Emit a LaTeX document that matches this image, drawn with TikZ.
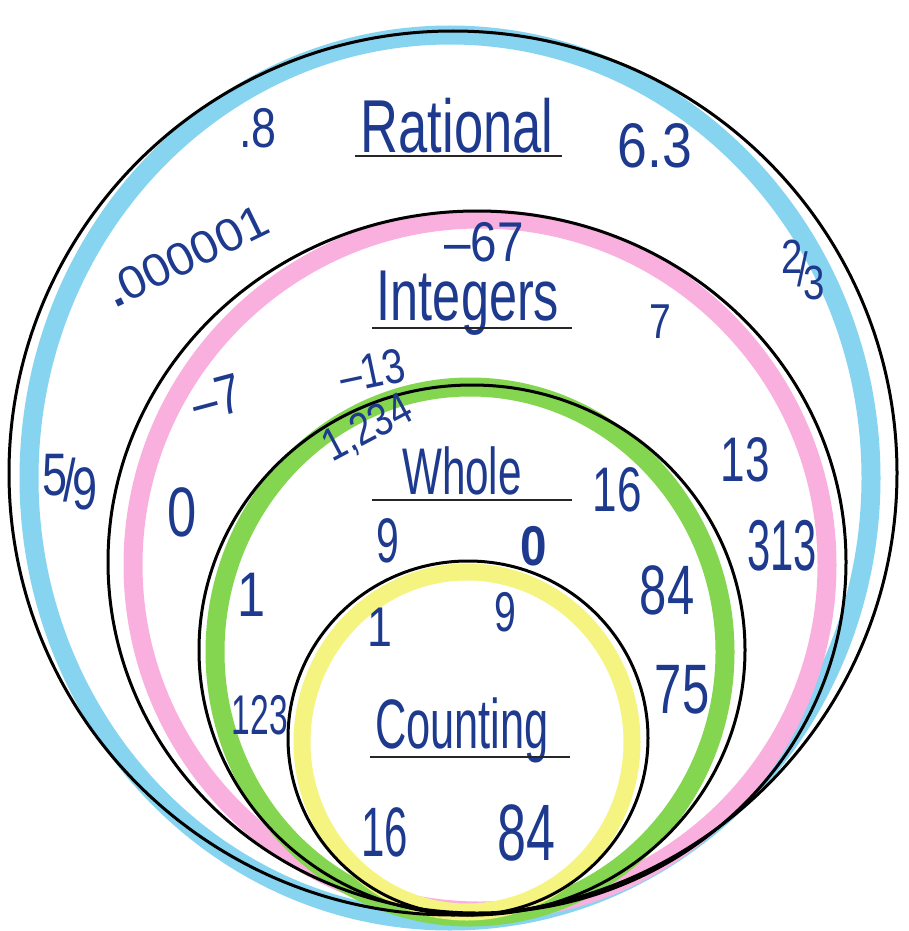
\documentclass[tikz,border=0pt]{standalone}
\usepackage{fontspec}
\setmainfont{Liberation Sans}
\definecolor{ink}{RGB}{30,58,142}
\definecolor{ratblue}{RGB}{134,212,240}
\definecolor{intpink}{RGB}{250,176,222}
\definecolor{wholegreen}{RGB}{132,214,80}
\definecolor{countyellow}{RGB}{246,244,128}
\newcommand\hw[3]{{\fontsize{#1}{#1}\selectfont\scalebox{#2}[1]{#3}}}
\begin{document}
\begin{tikzpicture}[x=1pt,y=-1pt,
  hand/.style={text=ink, inner sep=0pt},
  band/.style={line width=#1},
  setline/.style={draw=black, line width=3pt},
  uline/.style={draw=black!85, line width=2.4pt}]
\useasboundingbox (0,0) rectangle (908,931);
\fill[white] (0,0) rectangle (908,931);
% highlighter bands
\draw[band=19pt, ratblue] (450,478) ellipse [x radius=421, y radius=443];
\draw[band=19pt, intpink] (480,565) ellipse [x radius=347, y radius=346];
\draw[band=19pt, wholegreen] (470,652) ellipse [x radius=255, y radius=265];
\draw[band=17pt, countyellow] (467,742) ellipse [x radius=165, y radius=170];
% black set outlines
\draw[setline] (453,473) ellipse [x radius=444, y radius=442];
\draw[setline] (477,562) ellipse [x radius=369, y radius=351];
\draw[setline] (472,650) ellipse [x radius=273, y radius=265];
\draw[setline] (468,738) ellipse [x radius=180, y radius=177];
% titles
\node[hand, anchor=base] (rat) at (457,152) {\hw{75}{0.7}{Rational}};
\draw[uline] (355,156) -- (562,156);
\node[hand, anchor=base] (int) at (468,320) {\hw{72}{0.7}{Integers}};
\draw[uline] (372,328) -- (572,328);
\node[hand, anchor=base] (who) at (462,494) {\hw{66}{0.64}{Whole}};
\draw[uline] (372,500) -- (572,500);
\node[hand, anchor=base] (cnt) at (462,748) {\hw{70}{0.62}{Counting}};
\draw[uline] (370,757) -- (570,757);
% rational numbers
\node[hand] (p8) at (258,128) {\hw{56}{0.8}{.8}};
\node[hand] (s63) at (655,146) {\hw{63}{0.85}{6.3}};
\node[hand, rotate=26] (small) at (187,256) {\hw{46}{1.05}{\textbf{.}000001}};
\node[hand] (twothirds) at (803,270) {\hw{48}{0.8}{\raisebox{13pt}{2}\kern-6pt/\kern-6pt\raisebox{-13pt}{3}}};
\node[hand] (fivenin) at (70,482) {\hw{60}{0.75}{\raisebox{6pt}{5}\kern-5pt/\kern-5pt\raisebox{-8pt}{9}}};
% integers
\node[hand] (m67) at (484,242) {\hw{56}{0.85}{–67}};
\node[hand] (i7) at (660,322) {\hw{49}{0.8}{7}};
\node[hand, rotate=15] (m7) at (217,398) {\hw{56}{0.8}{–7}};
\node[hand, rotate=12] (m13) at (372,371) {\hw{49}{0.8}{–13}};
\node[hand] (i13) at (745,460) {\hw{63}{0.7}{13}};
\node[hand] (i0) at (182,512) {\hw{70}{0.75}{0}};
\node[hand] (i313) at (782,546) {\hw{72}{0.58}{313}};
% whole
\node[hand, rotate=28] (w1234) at (368,429) {\hw{46}{0.82}{1,234}};
\node[hand] (w16) at (617,490) {\hw{63}{0.7}{16}};
\node[hand] (w9) at (388,541) {\hw{63}{0.65}{9}};
\node[hand] (w0) at (534,546) {\hw{56}{0.85}{\textbf{0}}};
\node[hand] (w84) at (667,590) {\hw{70}{0.7}{84}};
\node[hand] (w1) at (252,595) {\hw{63}{0.8}{1}};
\node[hand] (w123) at (260,715) {\hw{56}{0.6}{123}};
\node[hand] (w75) at (682,690) {\hw{70}{0.7}{75}};
% counting
\node[hand] (c1) at (380,627) {\hw{56}{0.8}{1}};
\node[hand] (c9) at (505,612) {\hw{56}{0.7}{9}};
\node[hand] (c16) at (385,832) {\hw{70}{0.6}{16}};
\node[hand] (c84) at (526,833) {\hw{80}{0.65}{84}};
\end{tikzpicture}
\end{document}
